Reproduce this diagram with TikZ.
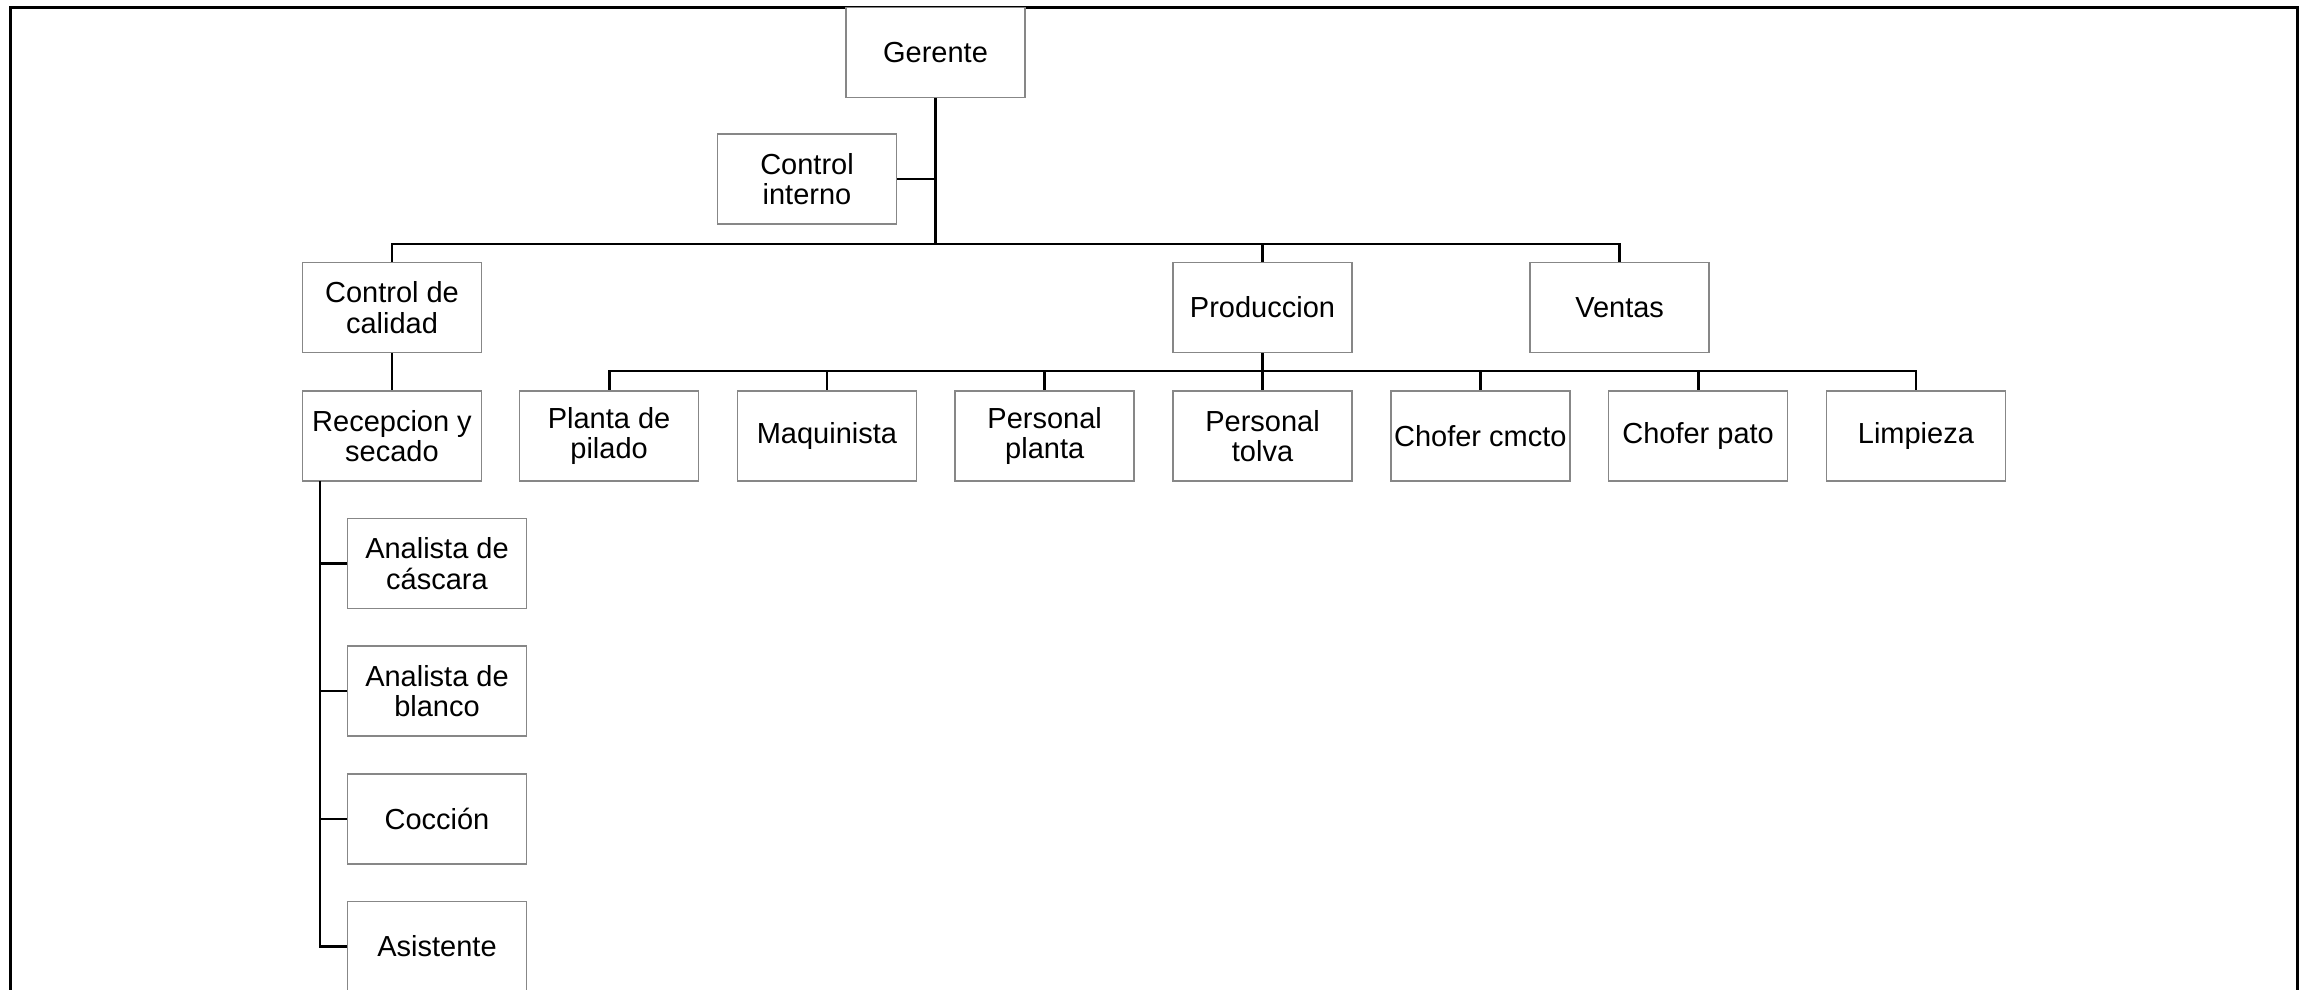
\documentclass[tikz,border=0pt]{standalone}
\usepackage{fontspec}
\setmainfont{Liberation Sans}
\definecolor{boxline}{RGB}{135,135,135}
\begin{document}
\begin{tikzpicture}[x=1pt, y=-1pt,
  unit/.style={draw=boxline, line width=1.5pt, fill=white,
    minimum width=179pt, minimum height=90pt, inner sep=0pt, align=center,
    font=\fontsize{29}{30.5}\selectfont},
  link/.style={draw=black, line width=2.8pt},
  frame/.style={draw=black, line width=3pt}]
\useasboundingbox (0,0) rectangle (2307,989);
\clip (0,0) rectangle (2307,989);

% outer frame (its lower edge lies beyond the page)
\draw[frame] (10.5,1100) -- (10.5,7) -- (2297,7) -- (2297,1100);

% top levels
\node[unit] (g)   at (935.5,52.5)  {Gerente};
\node[unit] (ci)  at (807,179)     {Control\\interno};
\node[unit] (cc)  at (392,307.5)   {Control de\\calidad};
\node[unit] (pr)  at (1262.5,307.5){Produccion};
\node[unit] (ve)  at (1619.6,307.5){Ventas};

% production staff
\node[unit] (rs)  at (392,436)     {Recepcion y\\secado};
\node[unit] (pp)  at (609.1,436)   {Planta de\\pilado};
\node[unit] (mq)  at (826.9,436)   {Maquinista};
\node[unit] (pl)  at (1044.7,436)  {Personal\\planta};
\node[unit] (pt)  at (1262.5,436)  {Personal\\tolva};
\node[unit] (cm)  at (1480.3,436)  {Chofer cmcto};
\node[unit] (cp)  at (1698.1,436)  {Chofer pato};
\node[unit] (li)  at (1915.9,436)  {Limpieza};

% quality staff
\node[unit] (ac)  at (437,563.6)   {Analista de\\cáscara};
\node[unit] (ab)  at (437,691)     {Analista de\\blanco};
\node[unit] (co)  at (437,819)     {Cocción};
\node[unit] (as)  at (437,946.6)   {Asistente};

% bus points
\coordinate (b1) at (935.5,244);
\coordinate (b2) at (1262.5,371);
\coordinate (sp) at (320,481);

% connectors
\draw[link] (g.south) -- (b1);
\draw[link] (ci.east) -- (ci.east -| g.south);
\draw[link] (b1) -| (cc.north);
\draw[link] (b1) -| (pr.north);
\draw[link] (b1) -| (ve.north);

\draw[link] (pr.south) -- (b2);
\foreach \n in {pp,mq,pl,pt,cm,cp,li}
  \draw[link] (b2) -| (\n.north);

\draw[link] (cc.south) -- (rs.north);
\draw[link] (sp) |- (as.west);
\foreach \n in {ac,ab,co}
  \draw[link] (sp |- \n.west) -- (\n.west);
\end{tikzpicture}
\end{document}
